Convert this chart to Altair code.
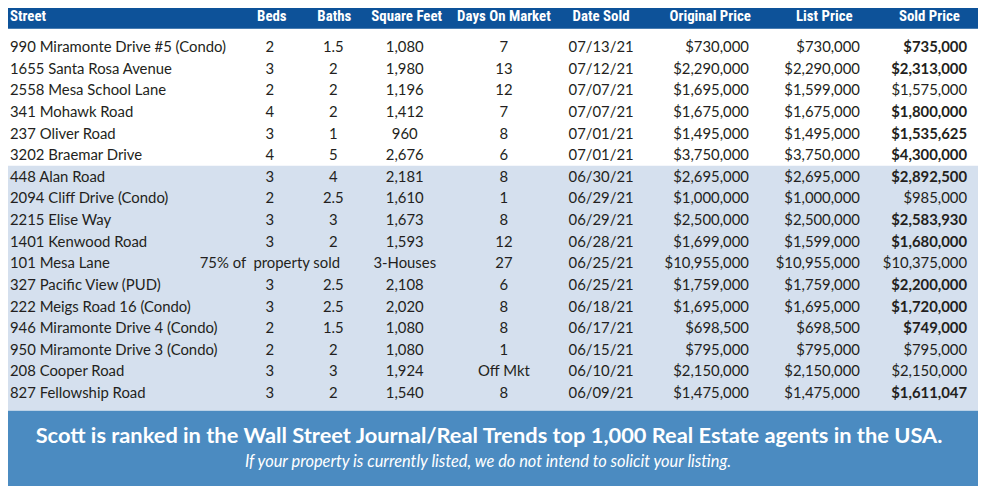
import altair as alt
import pandas as pd

# ---------------- data ----------------
streets = ["990 Miramonte Drive #5 (Condo)", "1655 Santa Rosa Avenue", "2558 Mesa School Lane",
           "341 Mohawk Road", "237 Oliver Road", "3202 Braemar Drive", "448 Alan Road",
           "2094 Cliff Drive (Condo)", "2215 Elise Way", "1401 Kenwood Road", "101 Mesa Lane",
           "327 Pacific View (PUD)", "222 Meigs Road 16 (Condo)", "946 Miramonte Drive 4 (Condo)",
           "950 Miramonte Drive 3 (Condo)", "208 Cooper Road", "827 Fellowship Road"]
beds = ["2", "3", "2", "4", "3", "4", "3", "2", "3", "3", "75% of\u00a0\u00a0property sold",
        "3", "3", "2", "2", "3", "3"]
baths = ["1.5", "2", "2", "2", "1", "5", "4", "2.5", "3", "2", "", "2.5", "2.5", "1.5", "2", "3", "2"]
sqft = ["1,080", "1,980", "1,196", "1,412", "960", "2,676", "2,181", "1,610", "1,673", "1,593",
        "3-Houses", "2,108", "2,020", "1,080", "1,080", "1,924", "1,540"]
days = ["7", "13", "12", "7", "8", "6", "8", "1", "8", "12", "27", "6", "8", "8", "1", "Off Mkt", "8"]
dates = ["07/13/21", "07/12/21", "07/07/21", "07/07/21", "07/01/21", "07/01/21", "06/30/21",
         "06/29/21", "06/29/21", "06/28/21", "06/25/21", "06/25/21", "06/18/21", "06/17/21",
         "06/15/21", "06/10/21", "06/09/21"]
orig_price = [730000, 2290000, 1695000, 1675000, 1495000, 3750000, 2695000, 1000000, 2500000,
              1699000, 10955000, 1759000, 1695000, 698500, 795000, 2150000, 1475000]
list_price = [730000, 2290000, 1599000, 1675000, 1495000, 3750000, 2695000, 1000000, 2500000,
              1599000, 10955000, 1759000, 1695000, 698500, 795000, 2150000, 1475000]
sold_price = [735000, 2313000, 1575000, 1800000, 1535625, 4300000, 2892500, 985000, 2583930,
              1680000, 10375000, 2200000, 1720000, 749000, 795000, 2150000, 1611047]
headers = ["Street", "Beds", "Baths", "Square Feet", "Days On Market", "Date Sold",
           "Original Price", "List Price", "Sold Price"]
banner_main = "Scott is ranked in the Wall Street Journal/Real Trends top 1,000 Real Estate agents in the USA."
banner_note = "If your property is currently listed, we do not intend to solicit your listing."

# ---------------- layout ----------------
W, H = 978, 480
ROW0, ROWH = 45.5, 21.8         # reference pixel of first row, row pitch
def idx(px):                    # reference pixel -> row-index units
    return (px - ROW0) / ROWH

body_x = {"Street": 10, "Beds": 272, "Baths": 336, "Square Feet": 408, "Days On Market": 508,
          "Date Sold": 606, "Original Price": 755, "List Price": 867, "Sold Price": 975}
body_align = {"Street": "left", "Original Price": "right", "List Price": "right", "Sold Price": "right"}
head_x = {"Street": 10, "Beds": 274, "Baths": 337, "Square Feet": 410, "Days On Market": 508,
          "Date Sold": 606, "Original Price": 716, "List Price": 831, "Sold Price": 937}

HEAD_BG, SHADE, BANNER = "#0d5299", "#d5e0ee", "#4b8bc1"
BODY_FONT = "Lato"
HEAD_FONT = "Roboto Condensed, Liberation Sans Narrow, DejaVu Sans Condensed, Lato"

def money(v):
    return "${:,}".format(v)

rows = []
for i in range(len(streets)):
    vals = [streets[i], beds[i], baths[i], sqft[i], days[i], dates[i],
            money(orig_price[i]), money(list_price[i]), money(sold_price[i])]
    for c, v in zip(headers, vals):
        rows.append({"row": i, "col": c, "text": v, "x": body_x[c],
                     "align": body_align.get(c, "center"),
                     "bold": c == "Sold Price" and sold_price[i] > list_price[i]})
body = pd.DataFrame(rows)

head = pd.DataFrame({"text": headers, "x": [head_x[h] for h in headers],
                     "align": ["left"] + ["center"] * (len(headers) - 1),
                     "row": [idx(14)] * len(headers)})

bands = pd.DataFrame({"x": [8, 8, 8], "x2": [986, 986, 986],
                      "y": [idx(0), idx(165), idx(412)], "y2": [idx(27), idx(412), idx(488)],
                      "c": [HEAD_BG, SHADE, BANNER]})
banner = pd.DataFrame({"text": [banner_main, banner_note], "x": [493, 492],
                       "row": [idx(438), idx(464)]})

xs = alt.Scale(domain=[8, 8 + W], range=[0, W], nice=False, zero=False)
ys = alt.Scale(domain=[idx(8), idx(8 + H)], range=[0, H], nice=False, zero=False)
X = alt.X("x:Q", scale=xs, axis=None)
Y = alt.Y("row:Q", scale=ys, axis=None)

bg = alt.Chart(bands).mark_rect().encode(
    x=X, x2="x2:Q", y=alt.Y("y:Q", scale=ys, axis=None), y2="y2:Q",
    color=alt.Color("c:N", scale=None))

base = alt.Chart(body)
def body_layer(align, bold):
    return base.transform_filter(
        (alt.datum.align == align) & (alt.datum.bold == bold)
    ).mark_text(align=align, baseline="middle", font=BODY_FONT, fontSize=15,
                fontWeight="bold" if bold else "normal", color="#231f20").encode(x=X, y=Y, text="text:N")

body_layers = [body_layer("left", False), body_layer("center", False),
               body_layer("right", False), body_layer("right", True)]

hbase = alt.Chart(head)
head_layers = [hbase.transform_filter(alt.datum.align == a).mark_text(
    align=a, baseline="middle", font=HEAD_FONT, fontSize=15, fontWeight="bold", color="white"
).encode(x=X, y=Y, text="text:N") for a in ["left", "center"]]

bbase = alt.Chart(banner)
ban1 = bbase.transform_filter(alt.datum.text == banner_main).mark_text(
    align="center", baseline="middle", font=BODY_FONT, fontSize=22, fontWeight="bold", color="white"
).encode(x=X, y=Y, text="text:N")
ban2 = bbase.transform_filter(alt.datum.text == banner_note).mark_text(
    align="center", baseline="middle", font=BODY_FONT, fontSize=16.5, fontStyle="italic", color="white"
).encode(x=X, y=Y, text="text:N")

chart = alt.layer(bg, *body_layers, *head_layers, ban1, ban2).properties(
    width=W, height=H, padding=0, autosize=alt.AutoSizeParams(type="none"), background="white"
).configure_view(stroke=None)

chart.save("out.html", embed_options={"renderer": "svg", "actions": False})
